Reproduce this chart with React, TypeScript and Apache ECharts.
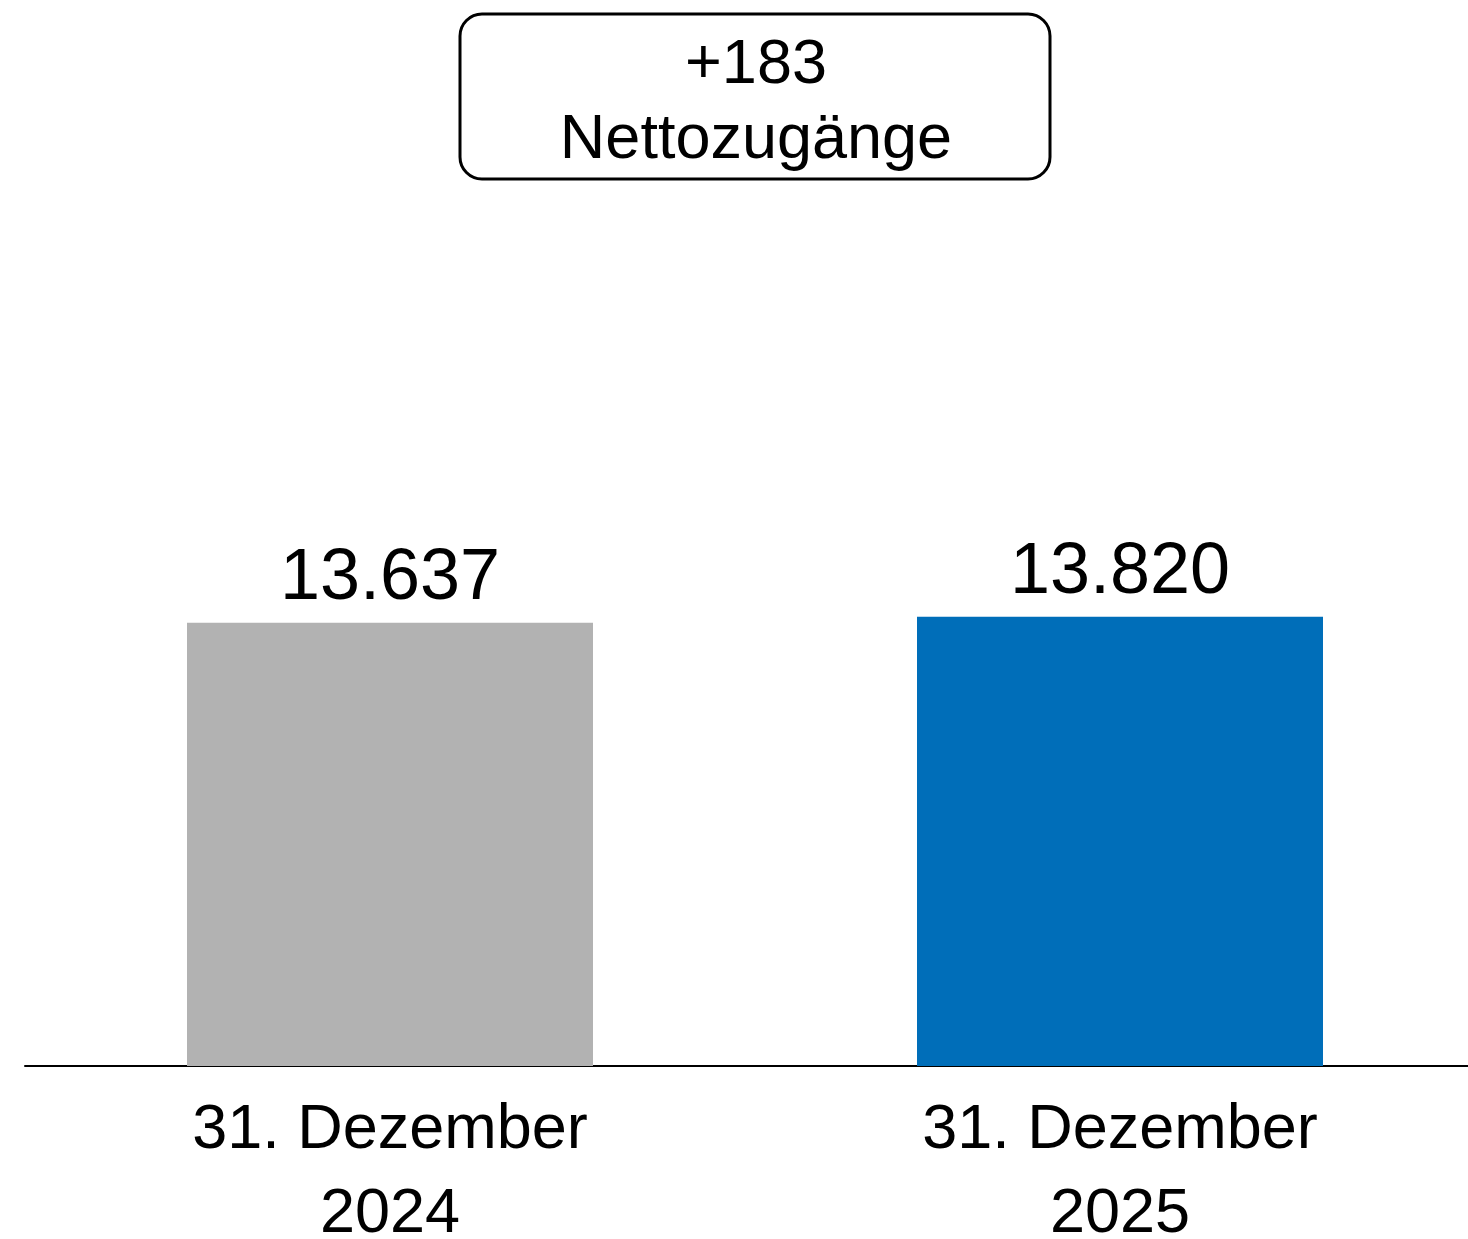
import React, { useEffect, useRef } from "react";
import * as echarts from "echarts";

const categories = ["31. Dezember\n2024", "31. Dezember\n2025"];
const values = [13637, 13820];
const barColors = ["#b2b2b2", "#006eb9"];
const boxLines = ["+183", "Nettozugänge"];

const FONT = "Liberation Sans, Arial, sans-serif";

function fmt(v: number): string {
  return v.toString().replace(/\B(?=(\d{3})+(?!\d))/g, ".");
}

export default function App() {
  const ref = useRef<HTMLDivElement>(null);
  useEffect(() => {
    if (!ref.current) return;
    const chart = echarts.init(ref.current, undefined, { renderer: "svg" });
    chart.setOption({
      animation: false,
      backgroundColor: "#ffffff",
      grid: {
        left: 25,
        top: 416,
        width: 1460,
        height: 650,
        containLabel: false,
        outerBoundsMode: "none",
      },
      xAxis: {
        type: "category",
        data: categories,
        axisLine: { show: true, lineStyle: { color: "#000", width: 2 } },
        axisTick: { show: false },
        axisLabel: {
          color: "#000",
          fontFamily: FONT,
          fontSize: 63,
          lineHeight: 84,
          margin: 18,
          interval: 0,
        },
      },
      yAxis: {
        type: "value",
        min: 0,
        max: 20000,
        show: false,
        splitLine: { show: false },
      },
      series: [
        {
          type: "bar",
          barWidth: 406,
          data: values.map((v, i) => ({ value: v, itemStyle: { color: barColors[i] } })),
          label: {
            show: true,
            position: "top",
            distance: 13,
            color: "#000",
            fontFamily: FONT,
            fontSize: 72,
            formatter: (p: any) => fmt(p.value),
          },
        },
      ],
      graphic: [
        {
          type: "rect",
          shape: { x: 460, y: 14, width: 590, height: 165, r: 22 },
          style: { fill: "#fff", stroke: "#000", lineWidth: 3 },
        },
        {
          type: "text",
          x: 756,
          y: 29,
          style: {
            text: boxLines[0],
            fill: "#000",
            font: `63px ${FONT}`,
            textAlign: "center",
            verticalAlign: "top",
          },
        },
        {
          type: "text",
          x: 756,
          y: 104,
          style: {
            text: boxLines[1],
            fill: "#000",
            font: `63px ${FONT}`,
            textAlign: "center",
            verticalAlign: "top",
          },
        },
      ],
    });
    return () => chart.dispose();
  }, []);
  return (
    <div
      ref={ref}
      style={{ position: "absolute", left: 0, top: 0, width: 1468, height: 1239 }}
    />
  );
}
